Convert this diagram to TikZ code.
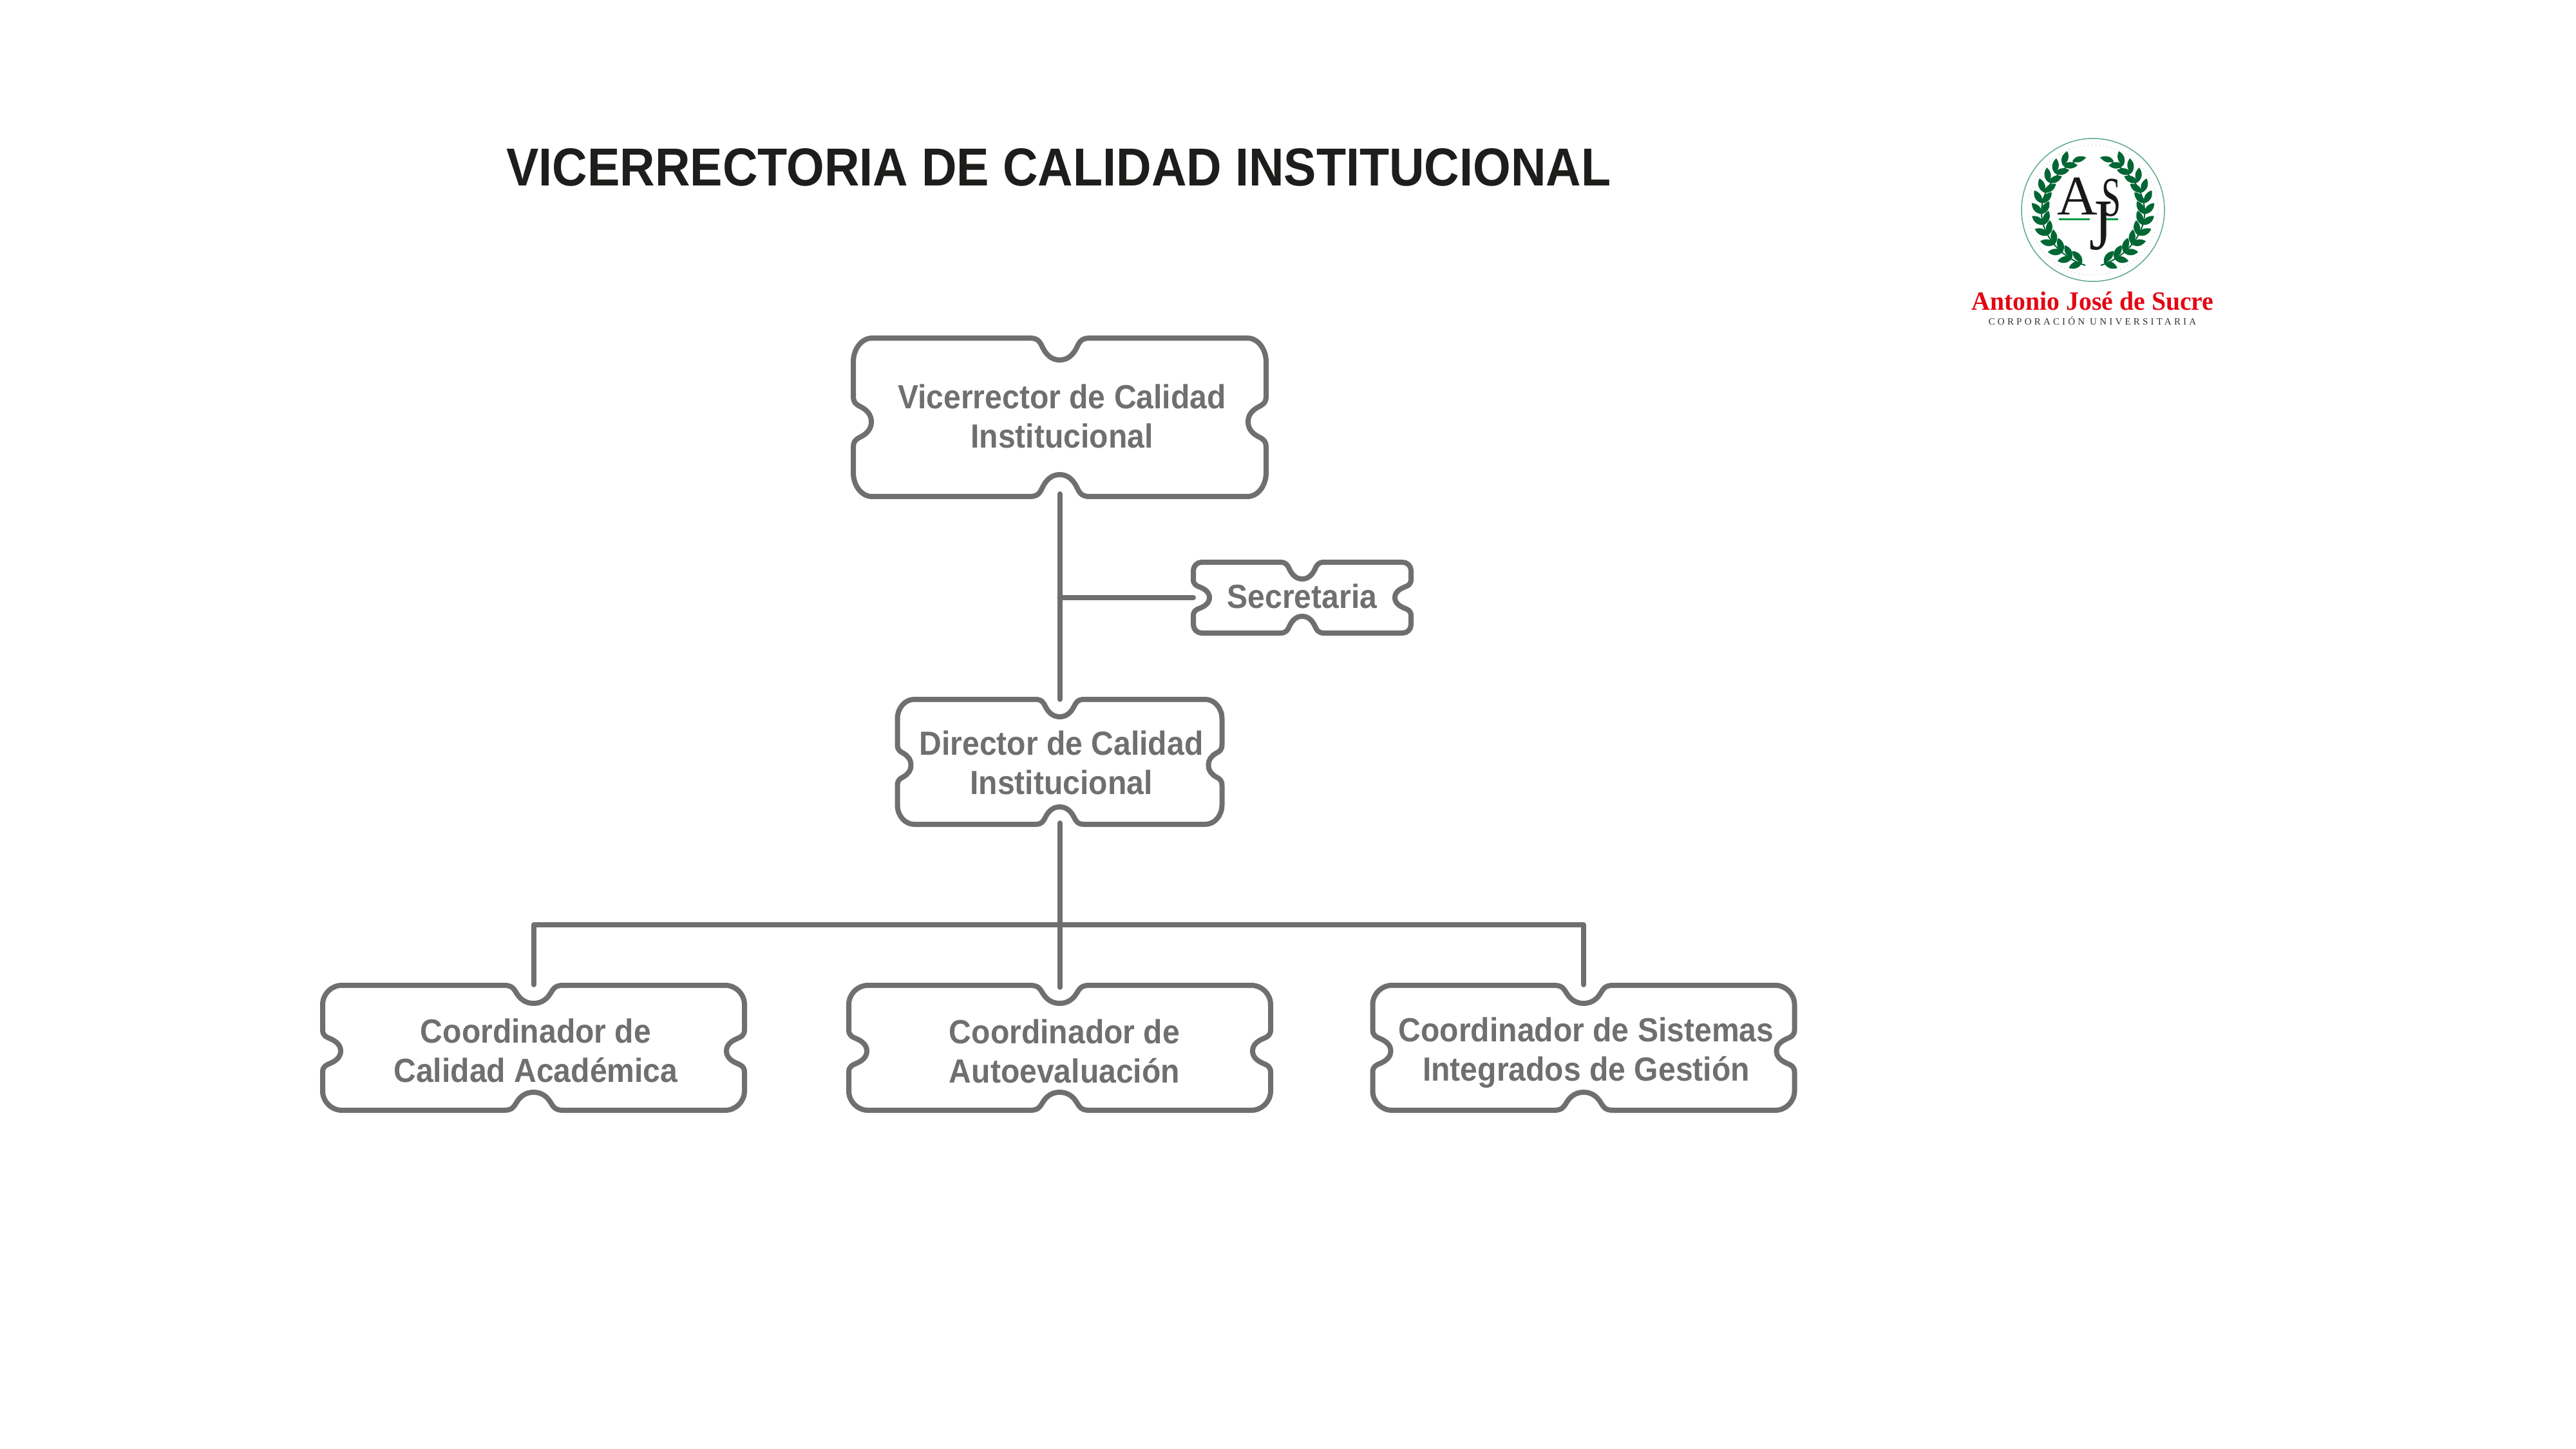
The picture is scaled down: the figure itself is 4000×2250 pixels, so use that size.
\documentclass[tikz,border=0pt]{standalone}
\usepackage{fontspec}
\usetikzlibrary{calc}
\setmainfont{Liberation Sans}
\newfontfamily\labfont[FakeStretch=0.925]{Liberation Sans}
\newfontfamily\titfont[FakeStretch=0.91]{Liberation Sans}
\newfontfamily\logoserif{Liberation Serif}
\newfontfamily\logoserifS[FakeStretch=0.62]{Liberation Serif}
\newfontfamily\logoserifJ[FakeStretch=0.8]{Liberation Serif}
\newfontfamily\logoname[FakeStretch=0.97]{Liberation Serif}
\newfontfamily\logocorp[LetterSpace=28]{Liberation Serif}
\definecolor{boxgray}{HTML}{706F6E}
\definecolor{titleink}{HTML}{1D1D1B}
\definecolor{leafgreen}{HTML}{006633}
\definecolor{bargreen}{HTML}{009A44}
\definecolor{ringgreen}{HTML}{5FA98A}
\definecolor{logored}{HTML}{E30613}
\tikzset{
  outline/.style={draw=boxgray,line width=1.6pt,line join=round},
  conn/.style={draw=boxgray,line width=1.6pt,line cap=round,line join=round},
  ticketbox/.style={inner sep=0pt,outer sep=0pt,draw=none},
  ticketlabel/.style={inner sep=0pt,outer sep=0pt,align=center,text=boxgray,font=\labfont\bfseries\fontsize{10.4}{12.2}\selectfont},
  leaf/.style={fill=leafgreen,draw=none}
}
% one text line with fixed height and depth
\newcommand\tl[1]{\rule[-2.4pt]{0pt}{12pt}#1}
% notch: mid point on edge, half-width vector, depth vector
\def\nc#1#2#3#4#5#6{%
 -- ({#1-(#3)},{#2-(#4)})
 .. controls ({#1-.72*(#3)},{#2-.72*(#4)}) and ({#1-.66*(#3)+.2*(#5)},{#2-.66*(#4)+.2*(#6)}) .. ({#1-.58*(#3)+.42*(#5)},{#2-.58*(#4)+.42*(#6)})
 .. controls ({#1-.46*(#3)+.75*(#5)},{#2-.46*(#4)+.75*(#6)}) and ({#1-.28*(#3)+(#5)},{#2-.28*(#4)+(#6)}) .. ({#1+(#5)},{#2+(#6)})
 .. controls ({#1+.28*(#3)+(#5)},{#2+.28*(#4)+(#6)}) and ({#1+.46*(#3)+.75*(#5)},{#2+.46*(#4)+.75*(#6)}) .. ({#1+.58*(#3)+.42*(#5)},{#2+.58*(#4)+.42*(#6)})
 .. controls ({#1+.66*(#3)+.2*(#5)},{#2+.66*(#4)+.2*(#6)}) and ({#1+.72*(#3)},{#2+.72*(#4)}) .. ({#1+(#3)},{#2+(#4)})
}
% rx ry nw nd sh sd sideoffset
\newcommand\tparams[7]{\def\Trx{#1}\def\Try{#2}\def\Tnw{#3}\def\Tnd{#4}\def\Tsh{#5}\def\Tsd{#6}\def\Tof{#7}}
% name cx cy w h tx ty text
\newcommand\ticket[8]{%
  \node[ticketbox,minimum width={(#4)*0.2pt},minimum height={(#5)*0.2pt},
    label={[ticketlabel,xshift={(#6-(#2))*0.2pt},yshift={-(#7-(#3))*0.2pt}]center:{#8}}] (#1) at (#2,#3) {};
  \begingroup
  \pgfmathsetmacro\Xa{#2-(#4)/2+4}\pgfmathsetmacro\Xb{#2+(#4)/2-4}
  \pgfmathsetmacro\Ya{#3-(#5)/2+4}\pgfmathsetmacro\Yb{#3+(#5)/2-4}
  \pgfmathsetmacro\Sy{#3+\Tof}\def\Cx{#2}
  \draw[outline] (\Xa+\Trx,\Ya)
    \nc{\Cx}{\Ya}{\Tnw}{0}{0}{\Tnd}
    -- ({\Xb-\Trx},\Ya) .. controls ({\Xb-.45*\Trx},\Ya) and (\Xb,{\Ya+.45*\Try}) .. (\Xb,{\Ya+\Try})
    \nc{\Xb}{\Sy}{0}{\Tsh}{-\Tsd}{0}
    -- (\Xb,{\Yb-\Try}) .. controls (\Xb,{\Yb-.45*\Try}) and ({\Xb-.45*\Trx},\Yb) .. ({\Xb-\Trx},\Yb)
    \nc{\Cx}{\Yb}{-\Tnw}{0}{0}{-\Tnd}
    -- ({\Xa+\Trx},\Yb) .. controls ({\Xa+.45*\Trx},\Yb) and (\Xa,{\Yb-.45*\Try}) .. (\Xa,{\Yb-\Try})
    \nc{\Xa}{\Sy}{0}{-\Tsh}{\Tsd}{0}
    -- (\Xa,{\Ya+\Try}) .. controls (\Xa,{\Ya+.45*\Try}) and ({\Xa+.45*\Trx},\Ya) .. ({\Xa+\Trx},\Ya) -- cycle;
  \endgroup
}
\newcommand\leafat[2]{% angle on the branch, length
  \pgfmathsetmacro\Lx{3250+80*cos(#1)}\pgfmathsetmacro\Ly{324-(80+abs(#1-180)*0.06)*sin(#1)}
  \foreach \dv in {36,-36}{
    \begin{scope}[shift={(\Lx,\Ly)},rotate={#1-90+\dv}]
      \fill[leaf] (0,0) .. controls (#2*.3,7) and (#2*.7,6.5) .. (#2,0) .. controls (#2*.7,-6.5) and (#2*.3,-7) .. (0,0) -- cycle;
    \end{scope}
  }
}
\newcommand\laurel{%
  \draw[leafgreen,line width=0.4pt] (3233,245)
     .. controls (3195,262) and (3170,295) .. (3170,330)
     .. controls (3170,365) and (3200,400) .. (3238,412);
  \foreach \a in {258,246,234,222,210,198,186,174,162,150,138,126}{\leafat{\a}{23}}
  \begin{scope}[shift={(3218,250)},rotate=15]
    \fill[leaf] (0,0) .. controls (6,6) and (14,6) .. (22,0) .. controls (14,-6) and (6,-6) .. (0,0) -- cycle;
  \end{scope}
}
\begin{document}
\begin{tikzpicture}[x=0.2pt,y=-0.2pt]
\useasboundingbox (0,0) rectangle (4000,2250);
\fill[white] (0,0) rectangle (4000,2250);

\node[anchor=base,inner sep=0pt,text=titleink,font=\titfont\bfseries\fontsize{16.6}{20}\selectfont] (title) at (1644,289) {VICERRECTORIA DE CALIDAD INSTITUCIONAL};

\tparams{29}{37}{46}{34}{40}{28}{7}
\ticket{v}{1645.5}{648}{649}{254}{1649}{646.5}{\tl{Vicerrector de Calidad}\\\tl{Institucional}}
\tparams{13}{13}{34}{26}{28}{25}{0}
\ticket{s}{2022}{928}{346}{118}{2022}{927}{\tl{Secretaria}}
\tparams{26}{30}{38}{27}{32}{21}{5}
\ticket{d}{1645.5}{1183}{512}{202}{1648}{1184.5}{\tl{Director de Calidad}\\\tl{Institucional}}
\tparams{30}{30}{46}{28}{33}{28}{5}
\ticket{a1}{828.5}{1627}{663}{202}{832}{1631.5}{\tl{Coordinador de}\\\tl{Calidad Académica}}
\ticket{a2}{1645.5}{1627}{663}{202}{1653}{1632.5}{\tl{Coordinador de}\\\tl{Autoevaluación}}
\ticket{a3}{2459}{1627}{663}{202}{2463}{1629.5}{\tl{Coordinador de Sistemas}\\\tl{Integrados de Gestión}}

\coordinate (bus) at (1645.5,1436);
\draw[conn] ($(v.south)+(0,-8)$) -- ($(d.north)+(0,4)$);
\draw[conn] (v.south |- s.west) -- ($(s.west)+(4,0)$);
\draw[conn] ($(d.south)+(0,-6)$) -- ($(a2.north)+(0,7)$);
\draw[conn] ($(a1.north)+(0,3)$) -- (a1.north |- bus) -- (a3.north |- bus) -- ($(a3.north)+(0,3)$);

% logo
\coordinate (logoc) at (3250,326);
\draw[ringgreen,line width=0.3pt] (logoc) circle [x radius=111,y radius=111];
\draw[ringgreen!60,line width=0.2pt,densely dotted] (logoc) circle [x radius=101,y radius=101];
\laurel
\begin{scope}[xscale=-1,xshift=-1300pt]
\laurel
\end{scope}
\fill[bargreen] (3197,339.5) rectangle (3245,342.5);
\fill[bargreen] (3269,339.5) rectangle (3289,342.5);
\node[anchor=base west,inner sep=0pt,text=black!90,font=\logoserif\fontsize{17.4}{20}\selectfont] (logoA) at (3193,334) {A};
\node[anchor=base west,inner sep=0pt,text=black!90,font=\logoserifS\fontsize{17.4}{20}\selectfont] (logoS) at (3262,336) {S};
\node[anchor=base west,inner sep=0pt,text=black!90,font=\logoserifJ\fontsize{22.6}{26}\selectfont] (logoJ) at (3243,388) {J};
\node[anchor=base,inner sep=0pt,text=logored,font=\logoname\bfseries\fontsize{8.2}{10}\selectfont] (logoN) at (3249.5,482) {Antonio José de Sucre};
\node[anchor=base,inner sep=0pt,text=black!80,font=\logocorp\fontsize{3}{4}\selectfont] (logoU) at (3249,505) {CORPORACIÓN UNIVERSITARIA};
\end{tikzpicture}
\end{document}
